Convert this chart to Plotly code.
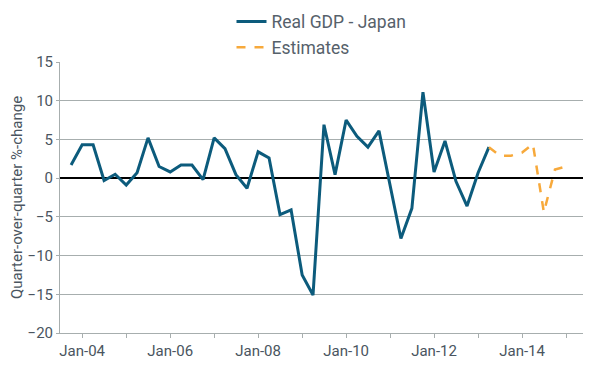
import plotly.graph_objects as go

# Quarterly dates (actual real GDP)
actual_dates = [
    "2003-10-01", "2004-01-01", "2004-04-01", "2004-07-01", "2004-10-01",
    "2005-01-01", "2005-04-01", "2005-07-01", "2005-10-01",
    "2006-01-01", "2006-04-01", "2006-07-01", "2006-10-01",
    "2007-01-01", "2007-04-01", "2007-07-01", "2007-10-01",
    "2008-01-01", "2008-04-01", "2008-07-01", "2008-10-01",
    "2009-01-01", "2009-04-01", "2009-07-01", "2009-10-01",
    "2010-01-01", "2010-04-01", "2010-07-01", "2010-10-01",
    "2011-01-01", "2011-04-01", "2011-07-01", "2011-10-01",
    "2012-01-01", "2012-04-01", "2012-07-01", "2012-10-01",
    "2013-01-01", "2013-04-01",
]
actual_values = [
    1.7, 4.3, 4.3, -0.3, 0.5,
    -0.9, 0.7, 5.2, 1.5,
    0.8, 1.7, 1.7, -0.2,
    5.2, 3.8, 0.45, -1.3,
    3.4, 2.6, -4.7, -4.1,
    -12.5, -15.1, 6.9, 0.45,
    7.5, 5.4, 4.0, 6.1,
    -0.7, -7.8, -3.9, 11.1,
    0.8, 4.8, -0.4, -3.6,
    0.7, 4.0,
]

estimate_dates = [
    "2013-04-01", "2013-07-01", "2013-10-01", "2014-01-01",
    "2014-04-01", "2014-07-01", "2014-10-01", "2015-01-01",
]
estimate_values = [4.0, 2.9, 2.9, 3.3, 4.4, -4.4, 1.1, 1.5]

y_ticks = [-20, -15, -10, -5, 0, 5, 10, 15]

text_color = "#4a5560"
grid_color = "#a7aeae"
font_family = "Roboto, Arial, sans-serif"

fig = go.Figure()
fig.add_trace(go.Scatter(
    x=actual_dates, y=actual_values, mode="lines",
    name="Real GDP - Japan",
    line=dict(color="#0c5b7c", width=3),
))
fig.add_trace(go.Scatter(
    x=estimate_dates, y=estimate_values, mode="lines",
    name="Estimates",
    line=dict(color="#f7a93b", width=2.5, dash="dash"),
))

fig.update_layout(
    width=589, height=365,
    margin=dict(l=60, r=6, t=62, b=32, autoexpand=False),
    paper_bgcolor="white", plot_bgcolor="white",
    font=dict(family=font_family, color=text_color, size=15),
    showlegend=True,
    legend=dict(
        orientation="v", x=0.5, xanchor="center",
        yref="container", y=0.99, yanchor="top",
        font=dict(size=17.5, color="#56616b"), itemwidth=30,
        tracegroupgap=0, bgcolor="rgba(0,0,0,0)",
    ),
    xaxis=dict(
        type="date",
        range=["2003-07-01", "2015-05-22"],
        dtick="M24", tick0="2004-01-01", tickformat="%b-%y",
        ticks="outside", ticklen=4, tickcolor=grid_color,
        showline=True, linecolor=grid_color, linewidth=1,
        showgrid=False, zeroline=False,
        tickfont=dict(size=15, color=text_color),
        minor=dict(dtick="M12", tick0="2004-01-01", ticks="outside",
                   ticklen=4, tickcolor=grid_color, showgrid=False),
    ),
    yaxis=dict(
        range=[-20, 15], tickvals=y_ticks,
        ticks="outside", ticklen=3, tickcolor=grid_color,
        showline=True, linecolor=grid_color, linewidth=1,
        showgrid=True, gridcolor=grid_color, gridwidth=1,
        zeroline=True, zerolinecolor="#000000", zerolinewidth=2,
        tickfont=dict(size=15, color=text_color),
        title=dict(text="Quarter-over-quarter %-change",
                   font=dict(size=15, color=text_color), standoff=1),
    ),
)

fig.write_html(
    "out.html",
    config={"displayModeBar": False},
    post_script="document.body.style.margin='0';document.body.style.overflow='hidden';",
)
